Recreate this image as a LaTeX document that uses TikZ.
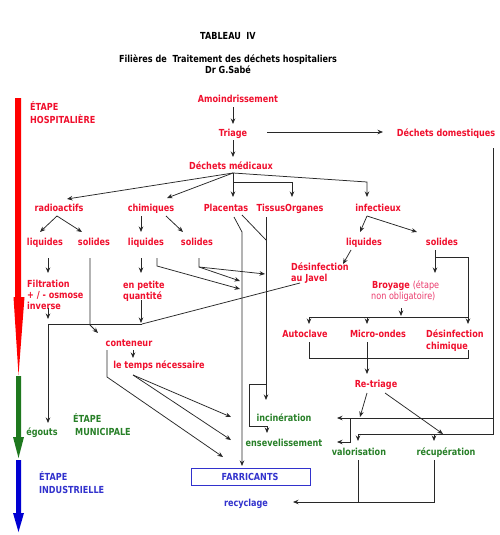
\documentclass[tikz,border=0pt]{standalone}
\usepackage{fontspec}
\setmainfont[FakeStretch=0.835]{DejaVu Sans}
\usetikzlibrary{arrows.meta}
\definecolor{tred}{RGB}{240,15,45}
\definecolor{tpink}{RGB}{235,60,110}
\definecolor{tgreen}{RGB}{40,128,40}
\definecolor{tblue}{RGB}{50,50,205}
\definecolor{lnc}{RGB}{40,40,40}
\definecolor{bred}{RGB}{255,0,0}
\definecolor{bgreen}{RGB}{30,120,30}
\definecolor{bblue}{RGB}{0,0,210}
\begin{document}
\begin{tikzpicture}[x=1pt,y=-1pt,
  base/.style={inner sep=0pt,text height=7.1pt,text depth=0pt,font=\bfseries\fontsize{9.7}{11}\selectfont},
  rt/.style={base,text=tred},
  gt/.style={base,text=tgreen},
  bt/.style={base,text=tblue},
  kt/.style={base,text=black},
  ln/.style={draw=lnc,line width=0.75pt},
  ar/.style={ln,-{Stealth[length=5.5pt,width=4.5pt]}},
]
\fill[white] (0,0) rectangle (500,535);
\useasboundingbox (0,0) rectangle (500,535);

% stage arrows
\fill[bred] (15,98) -- (21,98) -- (21,297) -- (24.5,297) -- (18.5,375) -- (13.5,297) -- (15,297) -- cycle;
\fill[bgreen] (16,376) -- (21,376) -- (21,437) -- (24,437) -- (18.5,458) -- (13,437) -- (16,437) -- cycle;
\fill[bblue] (16,460) -- (21,460) -- (21,513) -- (24,513) -- (18.5,532) -- (13,513) -- (16,513) -- cycle;

% titles
\node[kt] (t1) at (228,36) {TABLEAU\ \ IV};
\node[kt] (t2) at (228,59) {Filières de\ \ Traitement des déchets hospitaliers};
\node[kt] (t3) at (228,70) {Dr G.Sabé};

% stage labels
\node[rt,anchor=west] (h1) at (30,107) {ÉTAPE};
\node[rt,anchor=west] (h2) at (30,120) {HOSPITALIÈRE};
\node[gt,anchor=west] (m1) at (73,419) {ÉTAPE};
\node[gt,anchor=west] (m2) at (75,432) {MUNICIPALE};
\node[bt,anchor=west] (i1) at (39,477) {ÉTAPE};
\node[bt,anchor=west] (i2) at (39,490) {INDUSTRIELLE};

% red nodes
\node[rt] (amo) at (238,99) {Amoindrissement};
\node[rt] (tri) at (233,133) {Triage};
\node[rt] (dom) at (446,133) {Déchets domestiques};
\node[rt] (med) at (231,166) {Déchets médicaux};
\node[rt] (rad) at (59,208) {radioactifs};
\node[rt] (chi) at (151,208) {chimiques};
\node[rt] (pla) at (226,208) {Placentas};
\node[rt] (tis) at (290,208) {TissusOrganes};
\node[rt] (inf) at (378,208) {infectieux};
\node[rt] (rliq) at (45,242) {liquides};
\node[rt] (rsol) at (94,242) {solides};
\node[rt] (cliq) at (146,242) {liquides};
\node[rt] (csol) at (197,242) {solides};
\node[rt] (iliq) at (364,242) {liquides};
\node[rt] (isol) at (442,242) {solides};
\node[rt,anchor=west] (filt1) at (27,284) {Filtration};
\node[rt,anchor=west] (filt2) at (27,295) {+ / - osmose};
\node[rt,anchor=west] (filt3) at (27,306) {inverse};
\node[rt,anchor=west] (pet1) at (123,285) {en petite};
\node[rt,anchor=west] (pet2) at (123,296) {quantité};
\node[rt,anchor=west] (jav1) at (291,267) {Désinfection};
\node[rt,anchor=west] (jav2) at (291,278) {au Javel};
\node[rt,anchor=west] (broy1) at (372,285) {Broyage \textcolor{tpink}{\mdseries(étape}};
\node[base,text=tpink,font=\mdseries\fontsize{9.7}{11}\selectfont,anchor=west] (broy2) at (371,296) {non obligatoire)};
\node[rt] (auto) at (305,334) {Autoclave};
\node[rt] (micro) at (378,334) {Micro-ondes};
\node[rt,anchor=west] (dch1) at (426,334) {Désinfection};
\node[rt,anchor=west] (dch2) at (426,346) {chimique};
\node[rt] (cont) at (129,343) {conteneur};
\node[rt] (temps) at (159,365) {le temps nécessaire};
\node[rt] (retri) at (376,384) {Re-triage};

% green nodes
\node[gt] (incin) at (284,418) {incinération};
\node[gt] (ensev) at (284,443) {ensevelissement};
\node[gt] (valo) at (359,452) {valorisation};
\node[gt] (recup) at (446,452) {récupération};
\node[gt] (egouts) at (42,432) {égouts};

% blue nodes
\node[draw=tblue,line width=0.9pt,minimum width=119pt,minimum height=17pt,inner sep=0pt] (fabbox) at (250.5,476.5) {};
\node[bt] (fab) at (250,477) {FARRICANTS};
\node[bt] (recy) at (246,503) {recyclage};

% junction coordinates
\coordinate (apex) at (233,173);
\coordinate (radapex) at (57,216);
\coordinate (infapex) at (367,216);

% connectors
\draw[ar] (233,107) -- (233,124);
\draw[ar] (267,132) -- (383,132);
\draw[ar] (233,140) -- (233,157);
\draw[ar] (apex) -- (67,199);
\draw[ar] (apex) -- (167,198);
\draw[ar] (apex) -- (233,197);
\draw[ar] (233,182) -- (292,182) -- (292,197);
\draw[ar] (apex) -- (367,182) -- (367,197);
\draw[ar] (radapex) -- (40,232);
\draw[ar] (radapex) -- (82,232);
\draw[ar] (141,216) -- (141,232);
\draw[ar] (166,216) -- (183,232);
\draw[ar] (infapex) -- (360,232);
\draw[ar] (infapex) -- (417,232);

\draw[ar] (48,258) -- (48,273);
\draw[ar] (48,308) -- (48,319);
\draw[ln] (48,324) -- (142,324);
\draw[ar] (48,324) -- (48,423);
\draw[ar] (90,258) -- (90,325) -- (98,333);
\draw[ar] (141,258) -- (141,273);
\draw[ar] (141,300) -- (141,323);
\draw[ln] (300,283) -- (142,324);
\draw[ar] (157,258) -- (157,266) -- (240,289);
\draw[ar] (199,258) -- (199,267) -- (240,281);
\draw[ar] (199,267) -- (265,274);

\draw[ar] (234,217) -- (242,232) -- (242,466);
\draw[ln] (242,215) -- (266,240);
\draw[ar] (266,217) -- (266,400);
\draw[ar] (266,384) -- (249,384) -- (249,426) -- (267,426) -- (267,433);

\draw[ar] (351,250) -- (343,264);
\draw[ar] (435,250) -- (435,273);
\draw[ar] (435,257) -- (468,257) -- (468,324);
\draw[ar] (401,308) -- (401,316);
\draw[ln] (309,317) -- (468,317);
\draw[ar] (309,317) -- (309,324);
\draw[ar] (367,317) -- (367,324);
\draw[ln] (309,342) -- (309,358) -- (468,358) -- (468,350);
\draw[ar] (367,342) -- (367,374);
\draw[ar] (367,393) -- (360,417);
\draw[ar] (385,393) -- (443,434);

\draw[ln] (493,148) -- (493,434) -- (358,434);
\draw[ar] (358,434) -- (358,441);
\draw[ar] (434,434) -- (434,441);
\draw[ar] (493,418) -- (337,418);
\draw[ar] (350,418) -- (350,442) -- (337,442);
\draw[ln] (358,460) -- (358,502);
\draw[ar] (434,460) -- (434,502) -- (293,502);

\draw[ar] (133,350) -- (133,358);
\draw[ar] (107,350) -- (107,377) -- (223,457);
\draw[ar] (133,375) -- (231,417);
\draw[ar] (133,375) -- (231,440);
\end{tikzpicture}
\end{document}
